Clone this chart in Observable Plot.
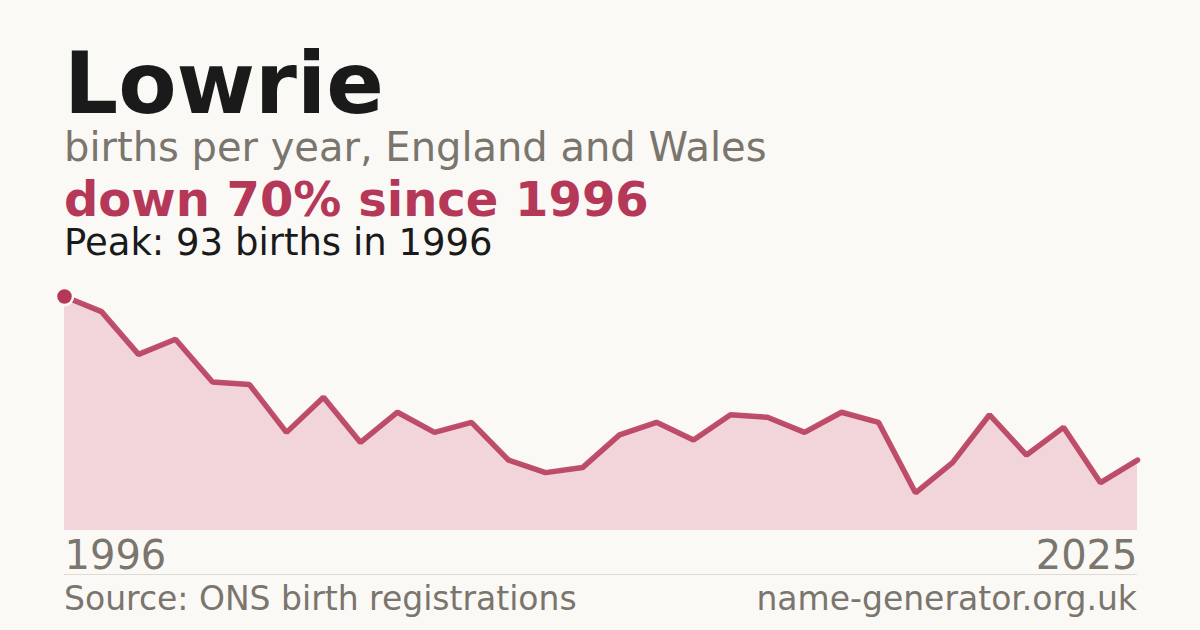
<!DOCTYPE html>
<html>
<head>
<meta charset="utf-8">
<script src="https://cdn.jsdelivr.net/npm/d3@7"></script>
<script src="https://cdn.jsdelivr.net/npm/@observablehq/plot@0.6"></script>
<style>
  html, body { margin: 0; padding: 0; }
  body { width: 1200px; height: 630px; background: #faf9f5; font-family: "DejaVu Sans", sans-serif; position: relative; overflow: hidden; }
  .t { position: absolute; left: 64px; white-space: nowrap; line-height: 1; }
  #title { top: 41px; font-size: 85px; font-weight: bold; color: #1a1a1a; }
  #sub { top: 127px; font-size: 40px; color: #7a756d; }
  #delta { top: 175px; font-size: 48px; font-weight: bold; color: #b53858; }
  #peak { top: 224px; font-size: 37px; color: #1a1a1a; }
  #chart { position: absolute; left: 0; top: 270px; }
  #sep { position: absolute; left: 64px; width: 1073px; top: 574px; height: 1px; background: #dedbd4; }
  #src { top: 582px; font-size: 33px; color: #7a756d; }
  #site { position: absolute; right: 63px; top: 582px; font-size: 33px; color: #7a756d; white-space: nowrap; line-height: 1; }
</style>
</head>
<body>
<div class="t" id="title"></div>
<div class="t" id="sub"></div>
<div class="t" id="delta"></div>
<div class="t" id="peak"></div>
<div id="chart"></div>
<div id="sep"></div>
<div class="t" id="src"></div>
<div id="site"></div>
<script>
const nameLabel = "Lowrie";
const subtitle = "births per year, England and Wales";
const changeLabel = "down 70% since 1996";
const peakLabel = "Peak: 93 births in 1996";
const sourceLabel = "Source: ONS birth registrations";
const siteLabel = "name-generator.org.uk";

const years = d3.range(1996, 2026);
const births = [93, 87, 70, 76, 59, 58, 39, 53, 35, 47, 39, 43, 28, 23, 25, 38, 43, 36, 46, 45, 39, 47, 43, 15, 27, 46, 30, 41, 19, 28];
const tickYears = [1996, 2025];

document.getElementById("title").textContent = nameLabel;
document.getElementById("sub").textContent = subtitle;
document.getElementById("delta").textContent = changeLabel;
document.getElementById("peak").textContent = peakLabel;
document.getElementById("src").textContent = sourceLabel;
document.getElementById("site").textContent = siteLabel;

const data = years.map((y, i) => ({year: y, births: births[i]}));
const peakIdx = births.indexOf(d3.max(births));
const peak = [data[peakIdx]];
const accent = "#b53858";

const chart = Plot.plot({
  width: 1200,
  height: 310,
  marginLeft: 64,
  marginRight: 63,
  marginTop: 26,
  marginBottom: 50,
  x: {domain: [1996, 2025], axis: null},
  y: {domain: [0, 93], axis: null},
  style: {background: "transparent", fontFamily: "DejaVu Sans, sans-serif", overflow: "visible"},
  marks: [
    Plot.areaY(data, {x: "year", y: "births", fill: "#f2d5db"}),
    Plot.lineY(data, {x: "year", y: "births", stroke: accent, strokeWidth: 5.5, strokeOpacity: 0.88, strokeLinejoin: "miter"}),
    Plot.dot(peak, {x: "year", y: "births", r: 8.5, fill: accent, stroke: "#faf9f5", strokeWidth: 2.5}),
    Plot.text([tickYears[0]], {x: d => d, y: 0, text: d => String(d), textAnchor: "start", dy: 26, fontSize: 40, fill: "#7a756d"}),
    Plot.text([tickYears[1]], {x: d => d, y: 0, text: d => String(d), textAnchor: "end", dy: 26, fontSize: 40, fill: "#7a756d"})
  ]
});
document.getElementById("chart").appendChild(chart);
</script>
</body>
</html>
